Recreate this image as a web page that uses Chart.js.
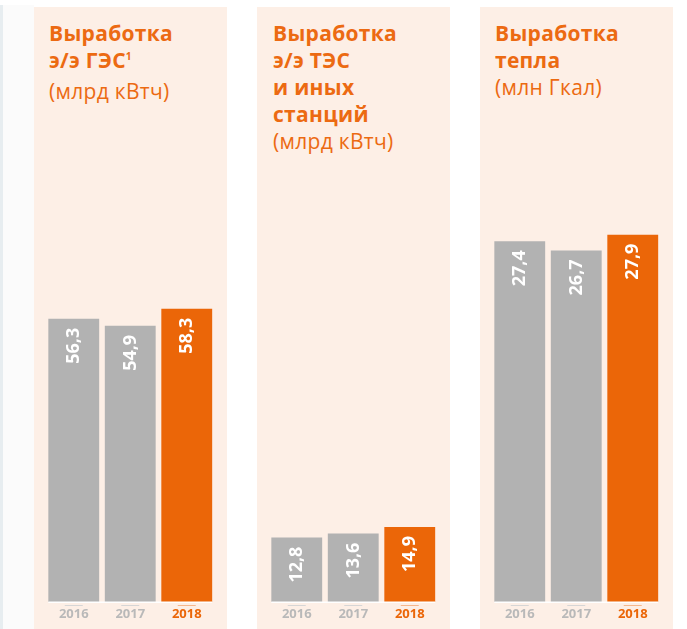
<!DOCTYPE html>
<html>
<head>
<meta charset="utf-8">
<script src="https://cdn.jsdelivr.net/npm/chart.js@4.4.1/dist/chart.umd.min.js"></script>
<style>
  html, body { margin: 0; padding: 0; background: #ffffff; }
  body { width: 687px; height: 629px; position: relative; overflow: hidden; font-family: "Open Sans", sans-serif; }
  .strip { position: absolute; left: 0; top: 5px; width: 3px; height: 624px; background: #e7edf0; }
  .leftbg { position: absolute; left: 3px; top: 5px; width: 31px; height: 624px; background: #fbfbfb; }
  .panel { position: absolute; top: 7px; width: 193px; height: 622px; background: #fdefe6; }
  .title { position: absolute; top: 19.5px; color: #ec6a12; font-size: 21px; line-height: 27px; letter-spacing: 0.3px; white-space: nowrap; }
  .title b { font-weight: 700; }
  .title .sub { font-weight: 400; }
  .title sup { font-size: 10px; font-weight: 700; vertical-align: 0; position: relative; top: -8px; letter-spacing: 0; }
  canvas { position: absolute; top: 0; }
</style>
</head>
<body>
<div class="strip"></div>
<div class="leftbg"></div>
<div class="panel" style="left:34px"></div>
<div class="panel" style="left:257px"></div>
<div class="panel" style="left:480px"></div>

<div class="title" style="left:49px"><b>Выработка<br>э/э ГЭС<sup>1</sup></b><br><span class="sub">(млрд кВтч)</span></div>
<div class="title" style="left:273px"><b>Выработка<br>э/э ТЭС<br>и иных<br>станций</b><br><span class="sub">(млрд кВтч)</span></div>
<div class="title" style="left:495px"><b>Выработка<br>тепла</b><br><span class="sub">(млн Гкал)</span></div>

<canvas id="c1" width="193" height="629" style="left:34px"></canvas>
<canvas id="c2" width="193" height="629" style="left:257px"></canvas>
<canvas id="c3" width="193" height="629" style="left:480px"></canvas>

<script>
// ---- data ----
const categories = ['2016', '2017', '2018'];
const hydroValues = [56.3, 54.9, 58.3];     // Выработка э/э ГЭС, млрд кВтч
const thermalValues = [12.8, 13.6, 14.9];   // Выработка э/э ТЭС и иных станций, млрд кВтч
const heatValues = [27.4, 26.7, 27.9];      // Выработка тепла, млн Гкал

const GRAY = '#b2b2b2';
const ORANGE = '#eb6608';
const barColors = categories.map((c, i) => i === categories.length - 1 ? ORANGE : GRAY);
const tickColors = categories.map((c, i) => i === categories.length - 1 ? ORANGE : '#b9b9b9');
const tickLineColors = categories.map((c, i) => i === categories.length - 1 ? '#f6b78c' : '#d6d6d6');

const fmt = v => v.toFixed(1).replace('.', ',');

const decorPlugin = {
  id: 'decor',
  afterDatasetsDraw(chart) {
    const ctx = chart.ctx;
    const meta = chart.getDatasetMeta(0);
    const area = chart.chartArea;
    const bars = meta.data;
    const first = bars[0], last = bars[bars.length - 1];
    ctx.save();
    ctx.fillStyle = '#ffffff';
    ctx.fillRect(first.x - first.width / 2, area.bottom - 0.5, (last.x + last.width / 2) - (first.x - first.width / 2), 1.5);
    ctx.fillStyle = '#ffffff';
    ctx.font = '700 18px "Open Sans"';
    ctx.textAlign = 'right';
    ctx.textBaseline = 'middle';
    bars.forEach((el, i) => {
      const v = chart.data.datasets[0].data[i];
      ctx.save();
      ctx.translate(el.x + 0.5, el.y + 9);
      ctx.rotate(-Math.PI / 2);
      ctx.fillText(fmt(v), 0, 0);
      ctx.restore();
    });
    const xs = chart.scales.x;
    categories.forEach((c, i) => {
      const px = xs.getPixelForTick(i);
      ctx.fillStyle = tickLineColors[i];
      ctx.fillRect(px - 9, area.bottom + 3, 18, 1);
    });
    ctx.restore();
  }
};

function makeChart(id, values, yMax) {
  return new Chart(document.getElementById(id), {
    type: 'bar',
    data: {
      labels: categories,
      datasets: [{
        data: values,
        backgroundColor: barColors,
        borderWidth: 0,
        barPercentage: 0.9,
        categoryPercentage: 1.0
      }]
    },
    options: {
      responsive: false,
      animation: false,
      devicePixelRatio: 1,
      layout: { padding: { top: 99, left: 11.5, right: 12, bottom: 0 } },
      plugins: { legend: { display: false }, tooltip: { enabled: false }, title: { display: false } },
      scales: {
        x: {
          display: true,
          grid: { display: false, drawTicks: false },
          border: { display: false },
          ticks: {
            color: tickColors,
            font: { family: 'Open Sans', weight: '700', size: 13 },
            padding: 4,
            maxRotation: 0
          },
          afterFit(scale) { scale.height = 27; }
        },
        y: { display: false, min: 0, max: yMax }
      }
    },
    plugins: [decorPlugin]
  });
}

makeChart('c1', hydroValues, 100);
makeChart('c2', thermalValues, 100);
makeChart('c3', heatValues, 38.2);
</script>
</body>
</html>
